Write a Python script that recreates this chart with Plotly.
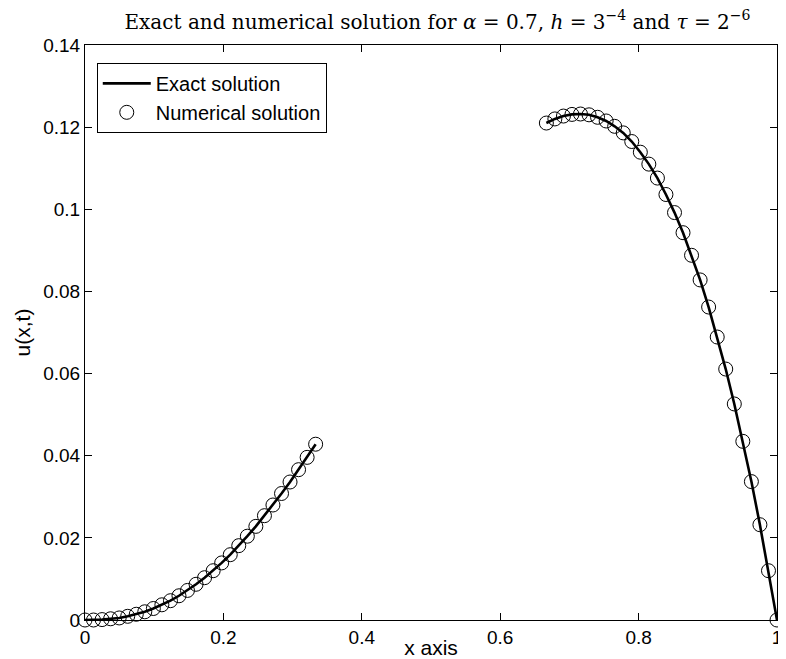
import plotly.graph_objects as go

# grid nodes (h = 1/81) on the two pieces
x_left = [0.0, 0.0123, 0.0247, 0.0370, 0.0494, 0.0617, 0.0741, 0.0864, 0.0988, 0.1111,
          0.1235, 0.1358, 0.1481, 0.1605, 0.1728, 0.1852, 0.1975, 0.2099, 0.2222, 0.2346,
          0.2469, 0.2593, 0.2716, 0.2840, 0.2963, 0.3086, 0.3210, 0.3333]
u_left = [0.0, 0.0000, 0.0001, 0.0003, 0.0005, 0.0009, 0.0014, 0.0020, 0.0028, 0.0037,
          0.0047, 0.0059, 0.0072, 0.0087, 0.0103, 0.0120, 0.0139, 0.0159, 0.0181, 0.0204,
          0.0228, 0.0254, 0.0280, 0.0308, 0.0336, 0.0366, 0.0396, 0.0428]

x_right = [0.6667, 0.6790, 0.6914, 0.7037, 0.7160, 0.7284, 0.7407, 0.7531, 0.7654, 0.7778,
           0.7901, 0.8025, 0.8148, 0.8272, 0.8395, 0.8519, 0.8642, 0.8765, 0.8889, 0.9012,
           0.9136, 0.9259, 0.9383, 0.9506, 0.9630, 0.9753, 0.9877, 1.0]
u_right = [0.1210, 0.1220, 0.1227, 0.1231, 0.1232, 0.1230, 0.1224, 0.1215, 0.1202, 0.1186,
           0.1165, 0.1139, 0.1110, 0.1076, 0.1036, 0.0992, 0.0943, 0.0888, 0.0828, 0.0762,
           0.0689, 0.0611, 0.0526, 0.0435, 0.0337, 0.0232, 0.0120, 0.0]

x_ticks = [0, 0.2, 0.4, 0.6, 0.8, 1]
x_labels = ['0', '0.2', '0.4', '0.6', '0.8', '1']
y_ticks = [0, 0.02, 0.04, 0.06, 0.08, 0.1, 0.12, 0.14]
y_labels = ['0', '0.02', '0.04', '0.06', '0.08', '0.1', '0.12', '0.14']

SANS = 'Liberation Sans, Arial, Helvetica'

fig = go.Figure()

# exact solution (two separate pieces, gap in the middle)
fig.add_trace(go.Scatter(x=x_left + [None] + x_right, y=u_left + [None] + u_right,
                         mode='lines', name='Exact solution',
                         line=dict(color='black', width=2.6), connectgaps=False))

# numerical solution
fig.add_trace(go.Scatter(x=x_left + x_right, y=u_left + u_right, mode='markers',
                         name='Numerical solution', cliponaxis=False,
                         marker=dict(symbol='circle-open', size=14, color='black',
                                     line=dict(width=1, color='black'))))

axis_style = dict(showline=True, linecolor='black', linewidth=1, mirror='ticks',
                  ticks='inside', ticklen=7, tickcolor='black', showgrid=False,
                  zeroline=False, automargin=False, ticklabeloverflow='allow',
                  tickfont=dict(family=SANS, size=19, color='black'))

# page body has an 8px margin, so the figure is made 8px smaller to fit the window
fig.update_layout(
    width=778, height=651,
    margin=dict(l=77, r=9, t=37, b=39),
    paper_bgcolor='white', plot_bgcolor='white',
    title=dict(text='Exact and numerical solution for <i>α</i> = 0.7, <i>h</i> = 3<sup>−4</sup> and <i>τ</i> = 2<sup>−6</sup>',
               x=0.552, xanchor='center', y=0.979, yanchor='middle',
               font=dict(family='DejaVu Serif, serif', size=20, color='black')),
    legend=dict(x=0.017, y=0.969, xanchor='left', yanchor='top',
                bgcolor='white', bordercolor='black', borderwidth=1,
                font=dict(family=SANS, size=20, color='black'),
                itemwidth=48, tracegroupgap=0),
    showlegend=True,
)

fig.update_xaxes(range=[0, 1], tickvals=x_ticks, ticktext=x_labels,
                 title=dict(text='x axis', font=dict(family=SANS, size=21, color='black'),
                            standoff=0),
                 **axis_style)
fig.update_yaxes(range=[0, 0.14], tickvals=y_ticks, ticktext=y_labels,
                 title=dict(text='u(x,t)', font=dict(family=SANS, size=21, color='black'),
                            standoff=6),
                 **axis_style)

fig.write_html("out.html")
